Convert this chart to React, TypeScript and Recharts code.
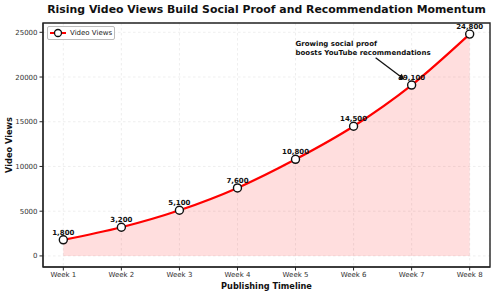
import {
  ComposedChart,
  Area,
  Line,
  XAxis,
  YAxis,
  CartesianGrid,
  ReferenceDot,
  ReferenceLine,
  ReferenceArea,
} from "recharts";

const weeks = ["Week 1", "Week 2", "Week 3", "Week 4", "Week 5", "Week 6", "Week 7", "Week 8"];
const views = [1800, 3200, 5100, 7600, 10800, 14500, 19100, 24800];
const yTicks = [0, 5000, 10000, 15000, 20000, 25000];
const noteLines = ["Growing social proof", "boosts YouTube recommendations"];

const data = weeks.map((w, i) => ({ idx: i + 1, week: w, views: views[i] }));

const FONT = "'DejaVu Sans', sans-serif";

function PointLabel(props: any) {
  const { x, y, value } = props;
  return (
    <text x={x} y={y - 5} textAnchor="middle" fontSize={7} fontWeight="bold" fill="#111" fontFamily={FONT}>
      {Number(value).toLocaleString("en-US")}
    </text>
  );
}

function Arrow(props: any) {
  const { x1, y1, x2, y2 } = props;
  if (x1 == null) return null;
  const ang = Math.atan2(y2 - y1, x2 - x1);
  const len = 6;
  const w = 3;
  const bx = x2 - len * Math.cos(ang);
  const by = y2 - len * Math.sin(ang);
  const px = -Math.sin(ang) * w;
  const py = Math.cos(ang) * w;
  return (
    <g>
      <line x1={x1} y1={y1} x2={bx} y2={by} stroke="#111" strokeWidth={1.3} />
      <polygon points={`${x2},${y2} ${bx + px},${by + py} ${bx - px},${by - py}`} fill="#111" />
    </g>
  );
}

function NoteLabel(props: any) {
  const { viewBox } = props;
  const x = viewBox.x;
  const y = viewBox.y;
  return (
    <text x={x} y={y} fontSize={7} fontWeight="bold" fill="#111" fontFamily={FONT}>
      {noteLines.map((l, i) => (
        <tspan key={i} x={x} y={y - 4.5 + i * 9.5}>
          {l}
        </tspan>
      ))}
    </text>
  );
}

function LegendBox() {
  return (
    <div
      style={{
        position: "absolute",
        left: 47,
        top: 26,
        boxSizing: "border-box",
        border: "1px solid #bbb",
        borderRadius: 2,
        background: "#fff",
        display: "flex",
        alignItems: "center",
        padding: "0 2px",
        fontFamily: FONT,
        fontSize: 7,
        color: "#222",
        width: 68,
        height: 14,
        whiteSpace: "nowrap",
      }}
    >
      <svg width={16} height={10} style={{ marginRight: 4, flexShrink: 0 }}>
        <line x1={0} y1={5} x2={16} y2={5} stroke="#ff0000" strokeWidth={2} />
        <circle cx={8} cy={5} r={3.5} fill="#fff" stroke="#111" strokeWidth={1.3} />
      </svg>
      Video Views
    </div>
  );
}

export default function App() {
  return (
    <div style={{ position: "absolute", left: 0, top: 0, width: 496, height: 295, background: "#fff" }}>
      <div
        style={{
          position: "absolute",
          left: 43,
          width: 447,
          top: 3,
          textAlign: "center",
          fontFamily: FONT,
          fontWeight: "bold",
          fontSize: 10.9,
          color: "#111",
          whiteSpace: "nowrap",
        }}
      >
        Rising Video Views Build Social Proof and Recommendation Momentum
      </div>
      <ComposedChart
        width={496}
        height={295}
        data={data}
        margin={{ top: 23, right: 6, bottom: 0, left: 0 }}
        style={{ fontFamily: FONT }}
      >
        <CartesianGrid stroke="#e2e2e2" strokeDasharray="2.5 2.5" strokeWidth={0.6} />
        <XAxis
          dataKey="idx"
          type="number"
          domain={[0.65, 8.35]}
          ticks={[1, 2, 3, 4, 5, 6, 7, 8]}
          tickFormatter={(v: number) => weeks[v - 1]}
          allowDataOverflow
          height={28}
          tickSize={3.5}
          tick={{ fontSize: 7, fill: "#333" }}
          stroke="#222"
          label={{ value: "Publishing Timeline", position: "insideBottom", offset: 6, fontSize: 8.2, fontWeight: "bold", fill: "#111" }}
        />
        <YAxis
          type="number"
          domain={[-1240, 26040]}
          ticks={yTicks}
          allowDataOverflow
          width={43}
          tickSize={3.5}
          tick={{ fontSize: 7, fill: "#333" }}
          stroke="#222"
          label={{ value: "Video Views", angle: -90, position: "insideLeft", offset: 9, fontSize: 8.2, fontWeight: "bold", fill: "#111", style: { textAnchor: "middle" } }}
        />
        <Area
          dataKey="views"
          type="monotone"
          baseValue={0}
          fill="#ff0000"
          fillOpacity={0.13}
          stroke="none"
          isAnimationActive={false}
          legendType="none"
        />
        <Line
          dataKey="views"
          name="Video Views"
          type="monotone"
          stroke="#ff0000"
          strokeWidth={2.2}
          dot={{ r: 4, fill: "#fff", stroke: "#111", strokeWidth: 1.4 }}
          activeDot={false}
          isAnimationActive={false}
          label={<PointLabel />}
        />
        <ReferenceLine
          segment={[
            { x: 6.38, y: 22160 },
            { x: 6.88, y: 19700 },
          ]}
          shape={<Arrow />}
          ifOverflow="visible"
        />
        <ReferenceDot x={5} y={23000} r={0} ifOverflow="visible" label={<NoteLabel />} />
        <ReferenceArea
          x1={0.65}
          x2={8.35}
          y1={-1240}
          y2={26040}
          fill="none"
          stroke="#222"
          strokeWidth={1.4}
          ifOverflow="visible"
        />
      </ComposedChart>
      <LegendBox />
    </div>
  );
}
